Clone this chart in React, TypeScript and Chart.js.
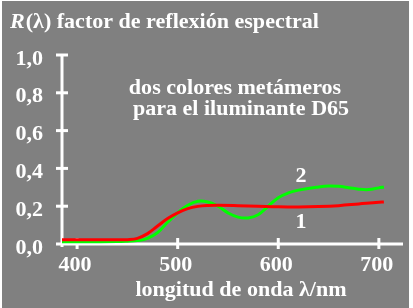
import React, { useEffect, useRef } from "react";
import { Chart, registerables } from "chart.js";

Chart.register(...registerables);

// Sample 1 (red) spectral reflectance
const wavelengths1 = [385, 400, 420, 440, 450, 460, 470, 480, 490, 500, 510, 520, 530, 540, 560, 580, 600, 620, 640, 660, 680, 700, 705];
const reflectance1 = [0.022, 0.022, 0.022, 0.022, 0.023, 0.03, 0.055, 0.095, 0.135, 0.165, 0.187, 0.199, 0.204, 0.205, 0.203, 0.2, 0.197, 0.196, 0.198, 0.203, 0.212, 0.221, 0.222];

// Sample 2 (green) spectral reflectance
const wavelengths2 = [385, 400, 420, 440, 450, 460, 470, 480, 490, 500, 510, 520, 530, 540, 550, 560, 570, 580, 590, 600, 610, 620, 640, 650, 660, 670, 680, 690, 700, 705];
const reflectance2 = [0.012, 0.012, 0.012, 0.013, 0.015, 0.018, 0.03, 0.06, 0.115, 0.165, 0.205, 0.226, 0.222, 0.2, 0.165, 0.142, 0.138, 0.155, 0.2, 0.245, 0.27, 0.285, 0.302, 0.307, 0.305, 0.298, 0.29, 0.288, 0.297, 0.302];

const xTickValues = [400, 500, 600, 700];
const xTickLabels = ["400", "500", "600", "700"];
const yTickValues = [0, 0.2, 0.4, 0.6, 0.8, 1.0];
const yTickLabels = ["0,0", "0,2", "0,4", "0,6", "0,8", "1,0"];

const titleItalic = "R";
const titleRest = "(λ) factor de reflexión espectral";
const noteLines = ["dos colores metámeros", "para el iluminante D65"];
const xTitle = "longitud de onda λ/nm";
const seriesLabels = ["1", "2"];

const FONT = '"Liberation Serif", "Times New Roman", serif';
const TEXT = "#ffffff";
const STRETCH = 1.05;

function drawText(ctx: any, text: string, x: number, y: number) {
  ctx.save();
  ctx.translate(x, y);
  ctx.scale(STRETCH, 1);
  ctx.fillText(text, 0, 0);
  ctx.restore();
}

const decorPlugin = {
  id: "decor",
  beforeDraw(chart: any) {
    const { ctx, width, height } = chart;
    ctx.save();
    ctx.fillStyle = "#ffffff";
    ctx.fillRect(0, 0, width, height);
    ctx.fillStyle = "#808080";
    ctx.fillRect(2, 1, 407, height - 1);
    ctx.restore();
  },
  beforeDatasetsDraw(chart: any) {
    const { ctx } = chart;
    const xs = chart.scales.x;
    const ys = chart.scales.y;
    const x0 = xs.getPixelForValue(xs.min);
    const y0 = ys.getPixelForValue(0);
    const y1 = ys.getPixelForValue(1);
    const xEnd = xs.getPixelForValue(xs.max);
    ctx.save();
    ctx.strokeStyle = TEXT;
    ctx.lineWidth = 3;
    ctx.lineCap = "butt";
    ctx.beginPath();
    ctx.moveTo(x0, y1);
    ctx.lineTo(x0, y0 + 3);
    ctx.stroke();
    ctx.beginPath();
    ctx.moveTo(x0 - 6, y0);
    ctx.lineTo(xEnd, y0);
    ctx.stroke();
    yTickValues.forEach((v) => {
      if (v === 0) return;
      const py = ys.getPixelForValue(v);
      ctx.beginPath();
      ctx.moveTo(x0 - 6, py);
      ctx.lineTo(x0 + 6, py);
      ctx.stroke();
    });
    xTickValues.forEach((v) => {
      const px = xs.getPixelForValue(v);
      ctx.beginPath();
      ctx.moveTo(px, y0 - 6);
      ctx.lineTo(px, y0 + 5);
      ctx.stroke();
    });
    ctx.restore();
  },
  afterDraw(chart: any) {
    const { ctx } = chart;
    const xs = chart.scales.x;
    const ys = chart.scales.y;
    ctx.save();
    ctx.fillStyle = TEXT;
    ctx.textBaseline = "alphabetic";
    ctx.textAlign = "left";
    ctx.font = `italic bold 21px ${FONT}`;
    drawText(ctx, titleItalic, 10, 28);
    const w = ctx.measureText(titleItalic).width * STRETCH;
    ctx.font = `bold 21px ${FONT}`;
    drawText(ctx, titleRest, 10 + w + 1, 28);
    ctx.textAlign = "right";
    yTickValues.forEach((v, i) => {
      drawText(ctx, yTickLabels[i], 43, ys.getPixelForValue(v) + 9.5);
    });
    ctx.textAlign = "center";
    xTickValues.forEach((v, i) => {
      drawText(ctx, xTickLabels[i], xs.getPixelForValue(v) - 2, 271);
    });
    drawText(ctx, xTitle, 241, 296);
    drawText(ctx, noteLines[0], 235, 94);
    drawText(ctx, noteLines[1], 241, 115);
    drawText(ctx, seriesLabels[0], 301, 228);
    drawText(ctx, seriesLabels[1], 301, 182);
    ctx.restore();
  },
};

export default function App() {
  const ref = useRef<HTMLCanvasElement | null>(null);
  useEffect(() => {
    if (!ref.current) return;
    const chart = new Chart(ref.current, {
      type: "line",
      data: {
        datasets: [
          {
            label: "1",
            data: wavelengths1.map((x, i) => ({ x, y: reflectance1[i] })),
            borderColor: "#ff0000",
            borderWidth: 3,
            pointRadius: 0,
            tension: 0.4,
            fill: false,
          },
          {
            label: "2",
            data: wavelengths2.map((x, i) => ({ x, y: reflectance2[i] })),
            borderColor: "#00ff00",
            borderWidth: 3,
            pointRadius: 0,
            tension: 0.4,
            fill: false,
          },
        ],
      },
      options: {
        responsive: false,
        animation: false,
        layout: { padding: { left: 62, right: 10, top: 55, bottom: 64 } },
        plugins: { legend: { display: false }, tooltip: { enabled: false } },
        scales: {
          x: { type: "linear", min: 385, max: 724, display: false },
          y: { type: "linear", min: 0, max: 1, display: false },
        },
      },
      plugins: [decorPlugin],
    });
    return () => chart.destroy();
  }, []);
  return (
    <div style={{ position: "fixed", left: 0, top: 0, width: 413, height: 308 }}>
      <canvas ref={ref} width={413} height={308} />
    </div>
  );
}
